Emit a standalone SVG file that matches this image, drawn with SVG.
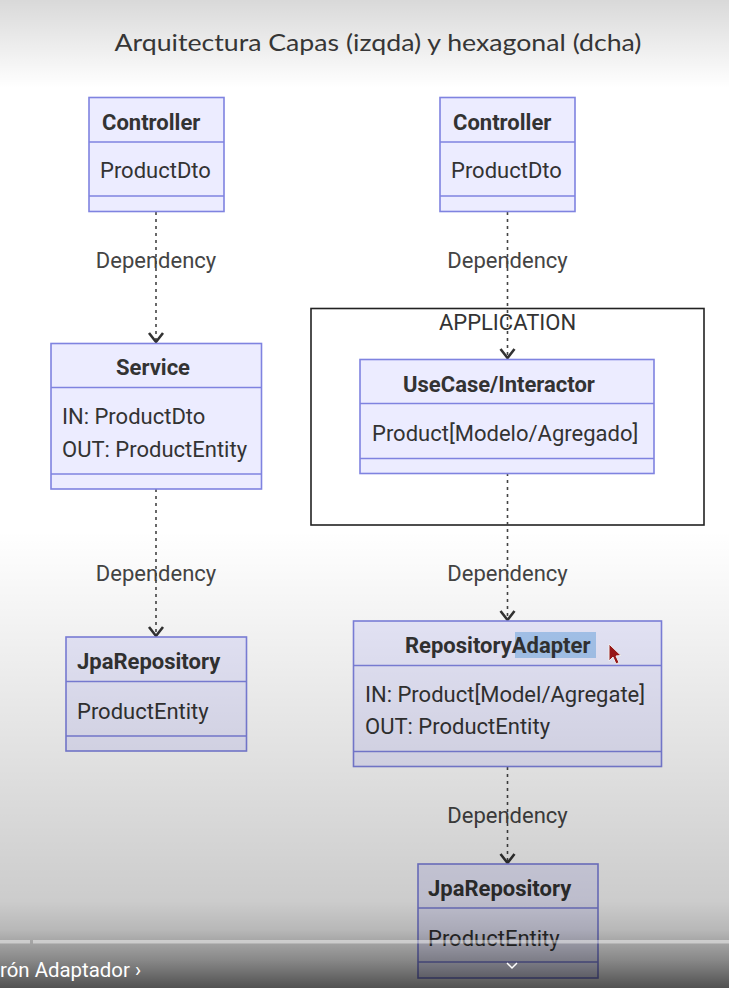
<svg xmlns="http://www.w3.org/2000/svg" width="729" height="988" viewBox="0 0 729 988">
<defs>
<style>
.box{fill:#ECECFF;stroke:#7F83E0;stroke-width:1.6}
.sep{stroke:#7F83E0;stroke-width:1.6}
.t{font-family:Roboto,"Liberation Sans",sans-serif;font-size:22px;fill:#333}
.b{font-weight:bold}
.lbl{font-family:Roboto,"Liberation Sans",sans-serif;font-size:22px;fill:#444;text-anchor:middle}
.dep{fill:none;stroke:#444;stroke-width:1.6;stroke-dasharray:3,4}
</style>
<marker id="arr" viewBox="-10 -10 20 20" markerWidth="20" markerHeight="20" refX="0" refY="0" orient="auto" markerUnits="userSpaceOnUse">
<path d="M-9,-7 L0,0 L-9,7" fill="none" stroke="#333" stroke-width="2.6"/>
</marker>
<linearGradient id="topg" x1="0" y1="0" x2="0" y2="1">
<stop offset="0" stop-color="#000" stop-opacity="0.15"/>
<stop offset="1" stop-color="#000" stop-opacity="0"/>
</linearGradient>
<linearGradient id="botg" x1="0" y1="0" x2="0" y2="1">
<stop offset="0" stop-color="#000" stop-opacity="0"/>
<stop offset="0.5" stop-color="#000" stop-opacity="0.12"/>
<stop offset="0.81" stop-color="#000" stop-opacity="0.2"/>
<stop offset="0.873" stop-color="#000" stop-opacity="0.28"/>
<stop offset="0.94" stop-color="#000" stop-opacity="0.47"/>
<stop offset="1" stop-color="#000" stop-opacity="0.68"/>
</linearGradient>
</defs>
<rect x="0" y="0" width="729" height="988" fill="#fff"/>
<text x="378" y="51" text-anchor="middle" textLength="527" lengthAdjust="spacingAndGlyphs" style="font-family:Lato,'Open Sans',sans-serif;font-size:23px;fill:#3a3a3a">Arquitectura Capas (izqda) y hexagonal (dcha)</text>

<g id="application">
<rect x="311" y="308.5" width="393" height="216.5" fill="none" stroke="#222" stroke-width="1.6"/>
<text x="507.5" y="330" class="t" text-anchor="middle" style="fill:#333">APPLICATION</text>
</g>

<g id="connectors">
<line x1="156" y1="212" x2="156" y2="342" class="dep" marker-end="url(#arr)"/>
<text x="156" y="268" class="lbl">Dependency</text>
<line x1="156" y1="489" x2="156" y2="636" class="dep" marker-end="url(#arr)"/>
<text x="156" y="581" class="lbl">Dependency</text>
<line x1="507.5" y1="212" x2="507.5" y2="358" class="dep" marker-end="url(#arr)"/>
<text x="507.5" y="268" class="lbl">Dependency</text>
<line x1="507.5" y1="473" x2="507.5" y2="620" class="dep" marker-end="url(#arr)"/>
<text x="507.5" y="581" class="lbl">Dependency</text>
<line x1="507.5" y1="767" x2="507.5" y2="863" class="dep" marker-end="url(#arr)"/>
<text x="507.5" y="823" class="lbl">Dependency</text>
</g>

<g id="controller-left">
<rect x="89" y="97.5" width="135" height="114" class="box"/>
<line x1="89" y1="142" x2="224" y2="142" class="sep"/>
<line x1="89" y1="196" x2="224" y2="196" class="sep"/>
<text x="102" y="130" class="t b">Controller</text>
<text x="100" y="178" class="t">ProductDto</text>
</g>

<g id="service">
<rect x="51" y="343.5" width="210.5" height="145.5" class="box"/>
<line x1="51" y1="387.5" x2="261.5" y2="387.5" class="sep"/>
<line x1="51" y1="474" x2="261.5" y2="474" class="sep"/>
<text x="153" y="375" class="t b" text-anchor="middle">Service</text>
<text x="62" y="424" class="t">IN: ProductDto</text>
<text x="62" y="457" class="t">OUT: ProductEntity</text>
</g>

<g id="jparepository-left">
<rect x="66" y="637" width="180.5" height="114" class="box"/>
<line x1="66" y1="681.5" x2="246.5" y2="681.5" class="sep"/>
<line x1="66" y1="736" x2="246.5" y2="736" class="sep"/>
<text x="77" y="669" class="t b">JpaRepository</text>
<text x="77" y="719" class="t">ProductEntity</text>
</g>

<g id="controller-right">
<rect x="440" y="97.5" width="135" height="114" class="box"/>
<line x1="440" y1="142" x2="575" y2="142" class="sep"/>
<line x1="440" y1="196" x2="575" y2="196" class="sep"/>
<text x="453" y="130" class="t b">Controller</text>
<text x="451" y="178" class="t">ProductDto</text>
</g>

<g id="usecase">
<rect x="360" y="359.5" width="294" height="114" class="box"/>
<line x1="360" y1="403.5" x2="654" y2="403.5" class="sep"/>
<line x1="360" y1="458.5" x2="654" y2="458.5" class="sep"/>
<text x="499" y="391.5" class="t b" text-anchor="middle">UseCase/Interactor</text>
<text x="372" y="441" class="t">Product[Modelo/Agregado]</text>
</g>

<g id="repositoryadapter">
<rect x="353.5" y="621" width="308" height="145.5" class="box"/>
<line x1="353.5" y1="665.5" x2="661.5" y2="665.5" class="sep"/>
<line x1="353.5" y1="751.5" x2="661.5" y2="751.5" class="sep"/>
<rect x="515" y="632" width="81" height="26" fill="#A9C9F2"/>
<text x="405" y="653" class="t b">RepositoryAdapter</text>
<text x="365" y="702" class="t">IN: Product[Model/Agregate]</text>
<text x="365" y="734" class="t">OUT: ProductEntity</text>
<path d="M609,644 L609,661 L613,657 L616,664 L619,662.5 L616,656 L621,655.5 Z" fill="#A01818" stroke="#fff" stroke-width="1"/>
</g>

<g id="jparepository-right">
<rect x="418" y="864" width="180" height="114" class="box"/>
<line x1="418" y1="908" x2="598" y2="908" class="sep"/>
<line x1="418" y1="962" x2="598" y2="962" class="sep"/>
<text x="428" y="896" class="t b">JpaRepository</text>
<text x="428" y="946" class="t">ProductEntity</text>
</g>

<rect x="0" y="0" width="729" height="88" fill="url(#topg)"/>
<rect x="0" y="530" width="729" height="458" fill="url(#botg)"/>
<rect x="0" y="940" width="30" height="3.5" fill="#fff" fill-opacity="0.45"/>
<rect x="33" y="940" width="696" height="3.5" fill="#fff" fill-opacity="0.45"/>
<text x="0" y="977" textLength="141" lengthAdjust="spacingAndGlyphs" style="font-family:Roboto,'Liberation Sans',sans-serif;font-size:20px;fill:#fff">rón Adaptador ›</text>
<path d="M507,963 L512,968 L517,963" fill="none" stroke="#fff" stroke-width="1.5"/>
</svg>
